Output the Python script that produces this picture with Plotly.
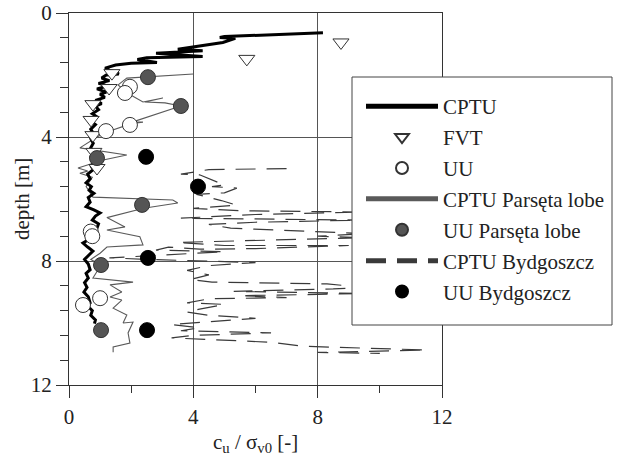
import plotly.graph_objects as go

# CPTU (thick black)
cptu_x = [8.17,6.5,5.0,4.85,5.35,4.95,4.3,4.0,3.5,4.3,3.2,2.8,4.3,3.0,2.5,2.2,2.83,2.0,1.5,1.16,1.3,1.5,1.6,1.2,1.05,1.3,0.95,1.25,0.9,1.2,1.0,1.15,0.85,1.05,0.85,0.95,0.75,0.9,0.72,0.85,0.7,0.8,0.7,0.78,0.7,0.78,0.7,0.8,0.72,0.78,0.6,0.68,0.55,0.72,0.65,0.8,0.62,0.68,0.55,0.8,1.0,0.85,0.75,0.95,0.9,0.6,0.55,0.65,0.45,0.6,0.77,0.65,0.5,0.62,0.68,0.55,0.62,0.5,0.58,0.48,0.62,0.68,0.6,0.75,0.7,0.85,0.82]
cptu_d = [0.64,0.7,0.76,0.79,0.82,0.95,1.05,1.1,1.17,1.22,1.27,1.3,1.4,1.42,1.44,1.5,1.6,1.62,1.68,1.78,1.85,1.9,1.97,2.0,2.1,2.18,2.27,2.35,2.45,2.55,2.62,2.72,2.82,2.92,3.0,3.12,3.25,3.35,3.5,3.6,3.75,3.9,4.05,4.2,4.35,4.5,4.65,4.8,4.95,5.05,5.2,5.35,5.48,5.6,5.72,5.82,5.95,6.1,6.25,6.35,6.45,6.55,6.68,6.8,6.94,7.05,7.2,7.3,7.42,7.55,7.68,7.8,7.95,8.1,8.28,8.4,8.55,8.7,8.85,9.0,9.15,9.35,9.45,9.6,9.75,9.9,10.02]

# FVT
fvt_x = [8.75,5.72,1.38,1.29,0.77,0.71,0.77,0.8,0.9]
fvt_d = [0.95,1.48,1.94,2.42,2.94,3.45,3.94,4.48,5.0]

# UU
uu_x = [1.96,1.8,1.96,1.19,0.7,0.75,1.0,0.45]
uu_d = [2.38,2.58,3.61,3.81,7.05,7.2,9.2,9.42]

# CPTU Parseta lobe
par_x = [4.0,2.54,1.86,1.58,1.9,2.38,3.02,2.44,3.09,3.6,2.03,2.38,2.03,1.22,0.9,0.6,0.35,1.86,1.1,0.29,0.6,0.35,0.75,0.55,0.77,3.34,3.5,2.4,1.22,1.8,1.22,2.28,2.38,1.22,1.0,0.7,1.03,0.77,2.06,1.32,1.7,1.32,1.7,1.42,1.86,1.74,2.06,1.9,1.96,1.42,1.42]
par_d = [1.97,2.07,2.1,2.32,2.6,2.87,2.74,2.87,2.9,3.0,3.52,3.52,3.56,3.84,4.0,4.2,4.35,4.58,4.74,5.0,5.1,5.17,5.3,5.6,5.94,6.03,6.13,6.3,6.6,6.9,7.0,7.22,7.48,7.55,7.75,7.95,8.13,8.55,8.68,8.77,9.0,9.16,9.26,9.52,9.74,10.0,9.97,10.32,10.65,10.77,10.94]

# UU Parseta lobe
upar_x = [2.54,3.6,0.9,2.35,1.03,1.03]
upar_d = [2.07,3.0,4.68,6.19,8.13,10.23]

# CPTU Bydgoszcz
byd_x = [7.0,4.5,3.6,4.2,5.0,4.6,5.4,5.0,4.1,4.9,5.4,4.0,5.5,9.5,6.0,3.6,9.5,6.0,4.5,5.2,9.6,8.0,9.5,6.0,3.5,5.0,9.0,6.0,4.2,3.2,2.8,5.0,4.0,1.3,2.6,4.0,6.0,4.5,3.8,4.5,3.9,4.6,8.3,9.5,8.5,5.3,9.5,5.5,7.0,4.5,3.8,5.0,4.2,3.8,4.5,6.0,4.5,3.3,4.2,3.6,6.5,4.0,3.3,4.7,6.5,7.5,11.5,8.0,10.0]
byd_d = [5.02,5.05,5.2,5.22,5.55,5.6,5.65,5.8,5.85,6.05,6.2,6.3,6.38,6.42,6.5,6.62,6.68,6.75,6.82,6.94,7.12,7.2,7.25,7.35,7.4,7.5,7.5,7.6,7.62,7.55,7.65,7.7,7.75,7.9,7.95,8.0,8.05,8.15,8.3,8.45,8.6,8.68,8.74,8.85,8.9,8.98,9.05,9.12,9.18,9.22,9.35,9.4,9.55,9.65,9.75,9.85,9.95,10.05,10.15,10.25,10.32,10.4,10.48,10.55,10.62,10.75,10.87,10.95,10.98]

# UU Bydgoszcz
uby_x = [2.48,4.15,2.54,2.51]
uby_d = [4.64,5.6,7.9,10.23]

FONT = "Liberation Serif, Times New Roman, serif"
FS = 21
TXT = "#222222"
fig = go.Figure()
fig.add_trace(go.Scatter(x=par_x, y=par_d, mode="lines", name="CPTU Parsęta lobe", legendgroup="g4",
                         line=dict(color="#5a5a5a", width=1.1), legendrank=4))
fig.add_trace(go.Scatter(x=byd_x, y=byd_d, mode="lines", name="CPTU Bydgoszcz", legendgroup="g6",
                         line=dict(color="#3a3a3a", width=1.2, dash="20px,11px"), legendrank=6))
fig.add_trace(go.Scatter(x=cptu_x, y=cptu_d, mode="lines", name="CPTU", legendgroup="g1",
                         line=dict(color="black", width=3), legendrank=1))
fig.add_trace(go.Scatter(x=fvt_x, y=fvt_d, mode="markers", name="FVT", legendrank=2, legendgroup="g2",
                         marker=dict(symbol="triangle-down", size=14, color="white",
                                     line=dict(color="#333333", width=1))))
fig.add_trace(go.Scatter(x=uu_x, y=uu_d, mode="markers", name="UU", legendrank=3, legendgroup="g3",
                         marker=dict(symbol="circle", size=15, color="white",
                                     line=dict(color="#333333", width=1))))
fig.add_trace(go.Scatter(x=upar_x, y=upar_d, mode="markers", name="UU Parsęta lobe", legendrank=5, legendgroup="g5",
                         marker=dict(symbol="circle", size=15, color="#555555",
                                     line=dict(color="#333333", width=1))))
fig.add_trace(go.Scatter(x=uby_x, y=uby_d, mode="markers", name="UU Bydgoszcz", legendrank=7, legendgroup="g7",
                         marker=dict(symbol="circle", size=15, color="black",
                                     line=dict(color="black", width=1))))

axis_common = dict(showline=True, linecolor="#333333", linewidth=1.2, mirror=True,
                   showgrid=True, gridcolor="#555555", gridwidth=1, zeroline=False,
                   ticks="outside", ticklen=12, tickcolor="#333333", automargin=False,
                   tickfont=dict(family=FONT, size=FS, color=TXT))
fig.update_xaxes(range=[0, 12], dtick=4, tick0=0, ticklabelstandoff=1,
                 minor=dict(dtick=2, ticks="outside", ticklen=7, tickcolor="#333333", showgrid=False),
                 **axis_common)
fig.update_yaxes(range=[12, 0], dtick=4, tick0=0,
                 minor=dict(dtick=0.8, ticks="outside", ticklen=8, tickcolor="#333333", showgrid=False),
                 **axis_common)

# legend frame (decoration)
fig.add_shape(type="rect", xref="paper", yref="paper",
              x0=(352-69)/373, x1=(612-69)/373, y0=1-(325-13)/372, y1=1-(77-13)/372,
              fillcolor="white", line=dict(color="#444444", width=1), layer="above")

fig.add_annotation(text="c<sub>u</sub> / σ<sub>v0</sub> [-]", xref="paper", yref="paper",
                   x=0.5, y=1-(443-13)/372, xanchor="center", yanchor="middle", showarrow=False,
                   font=dict(family=FONT, size=FS, color=TXT))
fig.add_annotation(text="depth [m]", xref="paper", yref="paper", textangle=-90,
                   x=(22-69)/373, y=0.5, xanchor="center", yanchor="middle", showarrow=False,
                   font=dict(family=FONT, size=FS, color=TXT))

fig.update_layout(width=619, height=459, margin=dict(l=69, r=177, t=13, b=74, autoexpand=False),
                  plot_bgcolor="white", paper_bgcolor="white",
                  font=dict(family=FONT, size=FS, color=TXT),
                  legend=dict(x=(361-69)/373, y=1-(86-13)/372, xanchor="left", yanchor="top",
                              bgcolor="rgba(0,0,0,0)", borderwidth=0,
                              itemwidth=72, itemsizing="constant", traceorder="grouped",
                              tracegroupgap=0.6,
                              font=dict(family=FONT, size=FS, color=TXT)))
fig.write_html("out.html")
